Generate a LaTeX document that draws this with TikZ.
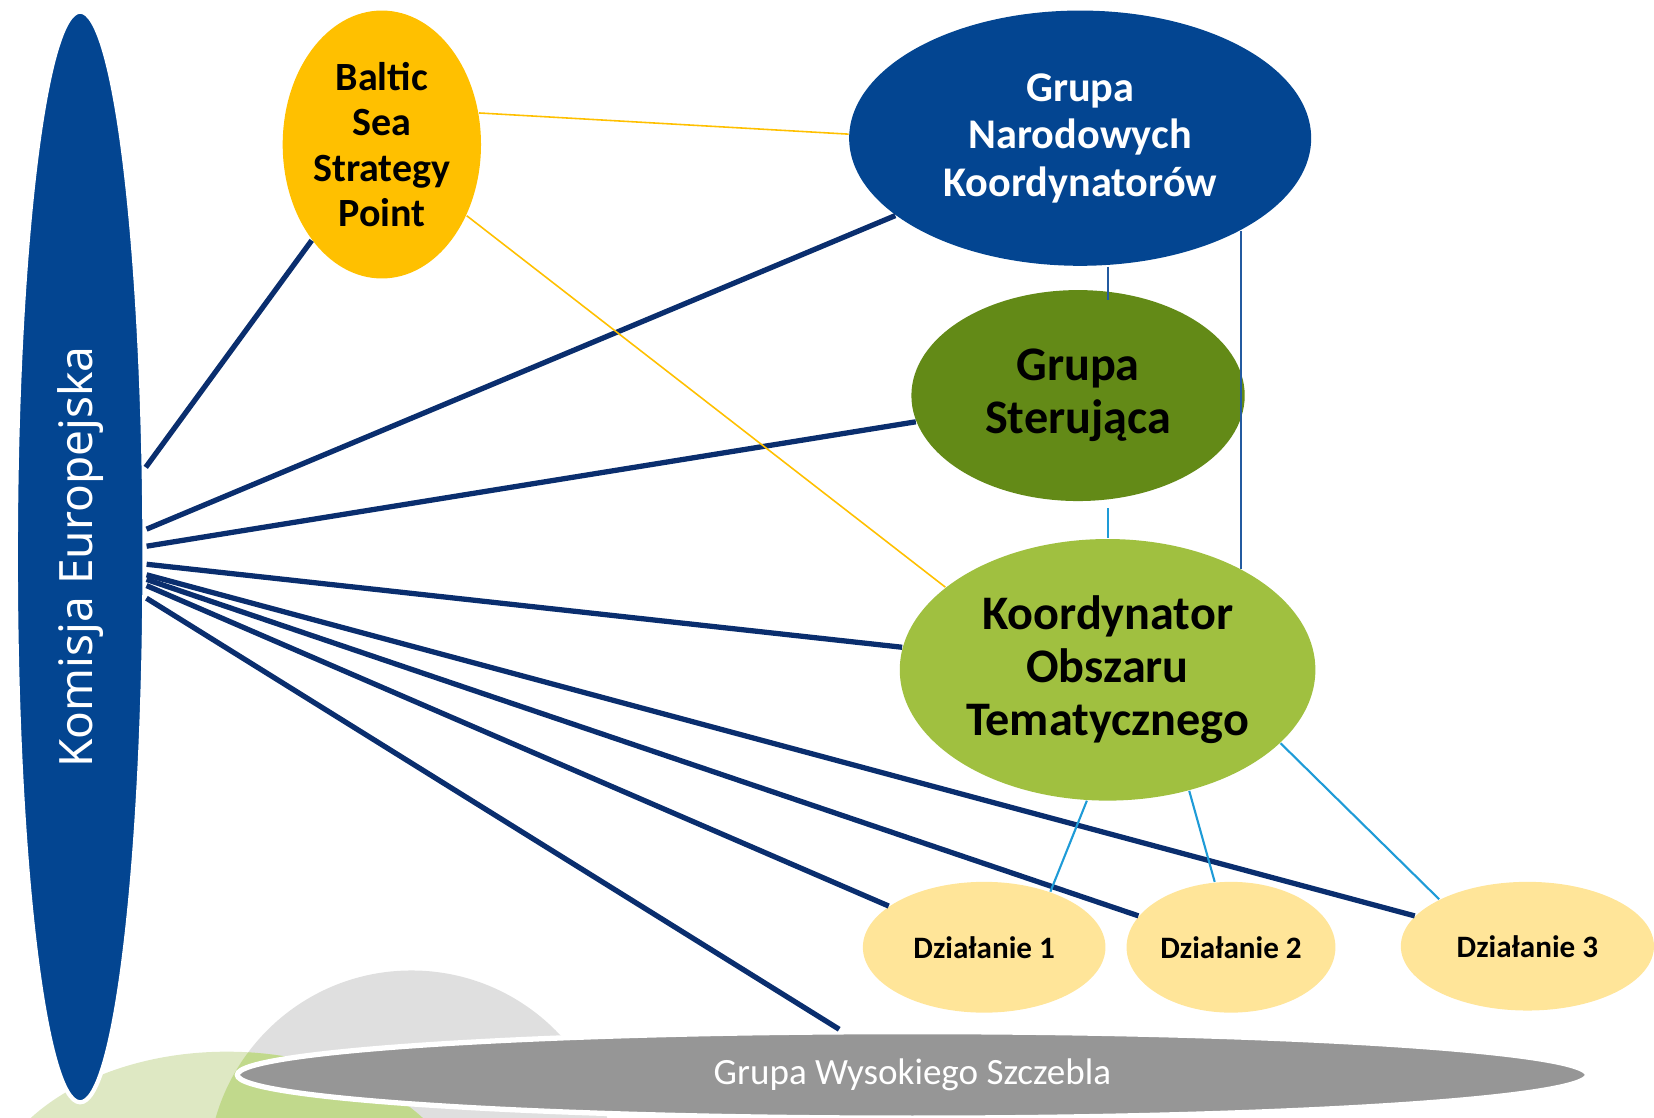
\documentclass[tikz,border=0pt]{standalone}
\usepackage{fontspec}
\setmainfont{Carlito}
\newfontfamily\komfont{Noto Sans}
\usepackage{tikz}
\usetikzlibrary{shapes.geometric}

\definecolor{kblue}{RGB}{3,69,145}
\definecolor{navy}{RGB}{10,46,110}
\definecolor{gold}{RGB}{255,192,0}
\definecolor{olive}{RGB}{99,138,23}
\definecolor{lime}{RGB}{160,192,64}
\definecolor{sand}{RGB}{255,229,153}
\definecolor{slate}{RGB}{150,150,150}
\definecolor{sky}{RGB}{30,155,215}
\definecolor{midblue}{RGB}{35,90,160}
\definecolor{fog}{RGB}{223,223,223}
\definecolor{palegreen}{RGB}{222,232,195}
\definecolor{leafgreen}{RGB}{193,217,140}

\tikzset{
	oval/.style={ellipse, inner sep=0pt, align=center},
	kline/.style={navy, line width=0.5mm},
	goldline/.style={gold, line width=0.15mm},
	skyline/.style={sky, line width=0.2mm},
	blueline/.style={midblue, line width=0.2mm}
}

\begin{document}
\begin{tikzpicture}[x=0.1mm, y=-0.1mm]
		\useasboundingbox (0,0) rectangle (1568,1059);
		\clip (0,0) rectangle (1568,1059);
		% shapes in the back
		\fill[fog] (390,1113) circle (19.3mm);
		\fill[palegreen] (215,1150) ellipse [x radius=23mm, y radius=15.3mm];
		\begin{scope}
			\clip (390,1113) circle (19.3mm);
			\fill[leafgreen] (215,1150) ellipse [x radius=23mm, y radius=15.3mm];
		\end{scope}

		\node[oval, fill=slate, draw=white, line width=0.5mm, minimum width=128mm, minimum height=8.2mm, text=white, font=\fontsize{10}{12}\selectfont] (gws) at (865,1019) {Grupa Wysokiego Szczebla};
		\node[oval, fill=kblue, draw=white, line width=0.4mm, rotate=90, minimum width=103.4mm, minimum height=12.2mm, text=white, font=\komfont\fontsize{12.4}{14}\selectfont] (kom) at (76,528) {Komisja Europejska};
		\node[oval, fill=gold, minimum width=18.8mm, minimum height=25.4mm, font=\bfseries\fontsize{10.8}{12.2}\selectfont] (bsp) at (362,137) {Baltic\\Sea\\Strategy\\Point};
		\node[oval, fill=kblue, text=white, minimum width=43.8mm, minimum height=24.2mm, font=\bfseries\fontsize{11.4}{12.8}\selectfont] (gnk) at (1024,131) {Grupa\\Narodowych\\Koordynatorów};
		\node[oval, fill=olive, minimum width=31.6mm, minimum height=20mm, font=\bfseries\fontsize{13}{14.2}\selectfont] (gs) at (1022,375) {Grupa\\Sterująca};
		\node[oval, fill=lime, minimum width=39.4mm, minimum height=24.8mm, font=\bfseries\fontsize{13}{14.3}\selectfont] (kot) at (1050,635) {Koordynator\\Obszaru\\Tematycznego};
		\node[oval, fill=sand, minimum width=23mm, minimum height=12.4mm, font=\bfseries\fontsize{8.4}{10}\selectfont] (d1) at (933,898) {Działanie 1};
		\node[oval, fill=sand, minimum width=19.8mm, minimum height=12.4mm, font=\bfseries\fontsize{8.4}{10}\selectfont] (d2) at (1167,898) {Działanie 2};
		\node[oval, fill=sand, minimum width=24mm, minimum height=12.2mm, font=\bfseries\fontsize{8.4}{10}\selectfont] (d3) at (1448,897) {Działanie 3};

		% from the Commission
		\draw[kline] (kom) -- (bsp);
		\draw[kline] (kom) -- (gnk);
		\draw[kline] (kom) -- (gs);
		\draw[kline] (kom) -- (kot);
		\draw[kline] (kom) -- (d3);
		\draw[kline] (kom) -- (d2);
		\draw[kline] (kom) -- (d1);
		\draw[kline] (kom) -- (gws);

		\draw[goldline] (bsp.18) -- (gnk.179);
		\draw[goldline] (bsp.-40) -- (kot.153);
		\draw[blueline] (gnk.south -| kot.north) -- ([yshift=-1mm]gs.north -| kot.north);
		\draw[blueline] (gnk.-30) -- (gnk.-30 |- kot.37);
		\draw[skyline] ([yshift=-0.6mm]gs.south -| kot.north) -- (kot.north);
		\draw[skyline] (kot.-99) -- (d1.40);
		\draw[skyline] (kot.-56) -- (d2.104);
		\draw[skyline] (kot.-23) -- (d3.152);
	\end{tikzpicture}
\end{document}
